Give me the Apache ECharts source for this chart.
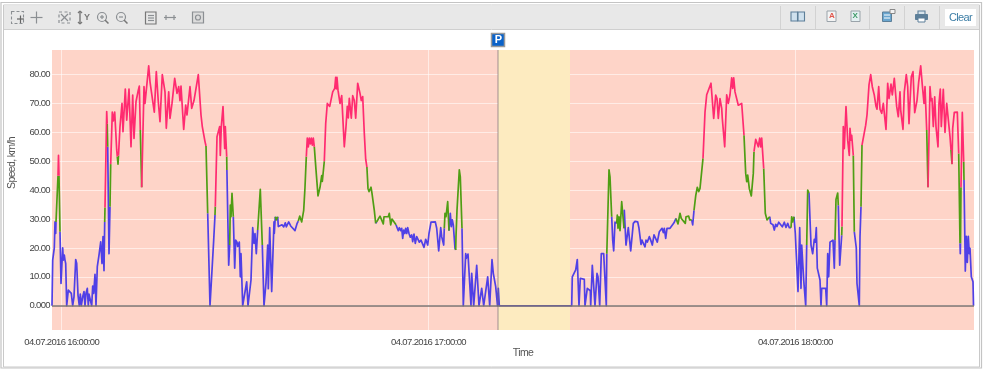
<!DOCTYPE html>
<html><head><meta charset="utf-8">
<style>html,body{margin:0;padding:0;background:#fff}#c{width:985px;height:371px}</style>
<script src="https://cdn.jsdelivr.net/npm/echarts@6/dist/echarts.min.js"></script>
</head><body><div id="c"></div>
<script>
// Readings: [sample number, speed in km/h]; one sample number is samplePeriod seconds
const samplePeriod = 9.814;
const traceStart = 57504.8;            // seconds after midnight
const parkingStart = 446, parkingEnd = 518; // sample numbers
const hourTicks = [57600, 61200, 64800];
const hourLabels = ['04.07.2016 16:00:00', '04.07.2016 17:00:00', '04.07.2016 18:00:00'];
const speedTicks = [0, 10, 20, 30, 40, 50, 60, 70, 80];

const blueLine = [[0,0],[0.7,15.8],[2.3,20],[3,29],[3.7,25],[4,29],null,
[8,25.6],[9,7.7],[10.7,20],[11.3,15.8],[12.3,17.5],[13,15.8],[13.7,14.6],[14.7,0],[16.3,5.4],[18,6],[19.3,4.3],[20.7,0],[22,3.1],[23.7,16],[24.7,14.6],[26,3.7],[27.3,0],[28.3,4],[29.3,0],[30.7,3.1],[32,4.9],[33,0],[34,4.3],[35.3,6],[36.3,0],[37,4],[38.7,4],[39.7,0],[40.7,6.8],[41.7,4.3],[43,10.9],[44,0],[45.3,13.5],[47,17.5],[48.7,22.1],[50,14.6],[51,23.9],[52,12.1],[52.7,29],null,
[55.7,55],[57,18],[58,34.3],null,
[155.7,32],[158,0],[161.7,22.7],[163,31.4],null,
[174.9,47],[176.7,14],[177.7,21],null,
[181.3,30.8],[182.7,13],[183.7,22.7],[185,22],[185.7,20.5],[187.3,22],[188.3,10],[189,18],[190.7,0],[194.7,8.3],[196,0],[197,0],[199,8.9],[200.7,27],[202,21.6],[203,25],[204.3,18],[205.7,26.2],null,
[210.3,21],[212,0],[214,8],[215.7,21],[216.3,5.9],[217.7,27],[219.7,4.9],[222,29],[222.3,25],[223.3,30.8],null,
[225.7,30.8],[226.3,27.4],[228,27.6],[230,28],[231.7,27.3],[233.3,28.7],[234.3,27.3],[236.7,29],[238.7,27.6],[240.7,27.9],[243,26],[245,28.4],[246.3,29.3],null,
[323.7,28.5],[324.7,29],null,
[344,28],[345.3,26.8],[346.3,26],[347.3,27],[348.7,26],[349.7,26.8],[350.7,23.3],[351.7,26.2],[352.7,25],[353.7,26.8],[354.7,25],[355.7,27],[357,25],[358.3,23.7],[359.7,24.5],[360.7,22.2],[362,24.8],[363.3,21.6],[364.7,23.9],[366.3,23.9],[367.3,22],[369,22.7],[370.3,22.2],[372,20.2],[373.7,23],[375.7,21],[377,25],[379,28.9],[383.3,29],[384.7,26.8],[386.7,19],[388.7,27],[389.7,23.9],[391.7,21],[392.3,26.8],null,
[397,26],[398.3,32],[399.3,27.4],[400.3,29.7],[401.3,28],[403,19.9],[403.7,19.3],null,
[410,26.8],[411.3,0],[413.7,18],[414.3,16.4],[416,17.9],[419,0],[419.7,11.2],[420.3,11],[421.7,0],[424.7,14],[427,0],[429.7,6],[431.7,0],[435.7,10],[437.7,0],[440,16],[441.3,11.2],[442.3,11.8],[443.7,6.6],[445.5,0],[446.3,6],[447.3,0],[519.7,0],[520.3,10],[522.3,10],[523.7,12.4],[525.3,16],[527,0],[528.3,9.5],[529.7,9],[532.3,9.1],[533,0],[535.3,6],[537,5.4],[538.3,5.2],[538.7,0],[540.3,14],[543,0],[545,11.2],[546,10],[547.7,0],[549.3,18],[550.7,17.5],[551.7,18],[554.3,0],[554.8,18],null,
[559.7,30.8],[560.7,22.7],[561.7,19],[563,28.9],[564.7,28.5],null,
[572,26.8],[572.3,33],[574,21],[576.3,27],[578.7,19],[581.3,28.5],[583,29.2],[585.7,29],[587,26.8],[589,21.2],[590,22.7],[591,21.8],[593,20.4],[594,22.7],[595.3,22],[597.3,23.9],[598.7,22.7],[600.3,21],[602,24.5],[603.7,23.9],[605.3,22],[607.3,25.6],[609,25],[610,26.8],[611.3,25.3],[612.3,26.8],[613.7,23.3],[615,26.8],[616.3,26.2],[618,26.8],[619.7,26.8],[622,28.7],[624,30.2],null,
[639.7,29.7],[640.7,28],[642,33],null,
[717.7,30.8],[718.7,28.5],[721,28],[722.3,26.2],[723.7,28.2],[725,27.4],[726.7,28.9],[728.7,29],[730.3,27.3],[732.3,28.9],[734,27.1],[735.7,28.5],[737.3,27],[739,27],null,
[742,30.8],[743.3,25],[746,4.9],[747.7,27],[749,6],[749.7,21],[751.7,8.9],[753.7,0],[754.7,21],null,
[757,39],[759,21],[760.7,18],[762.3,23],[763.3,22],[764.3,27],[765.3,13],[768,8.9],[769,0],[769.7,6],[773.7,6],[774.7,0],[775.7,18],[776.7,10],[778,22],[779.7,21.8],[781,22.7],[782.3,13],[783,22.7],null,
[786.3,34.8],[787.7,14],[789.7,24.4],null,
[802.3,25.6],[804.3,19.9],[805,7.7],[807.3,0],[808,24],[809,34.3],null,
[908,21.6],[908.3,18],[908.5,21.6],null,
[912,43.5],[913.3,12],[914.3,24],[915.3,15],[916.3,24],[917.3,18],[918,19.9],[919.3,10],[921,8.3],[921.5,0]];

const greenLine = [[4,29],[6,45],null,[7,45],[8,25.6],null,[52.7,29],[53,34],null,[55.2,63],[55.7,55],null,[58,34.3],[58.7,49],null,
[65.3,51.6],[66,49],[66.5,52],null,[88.3,60.8],[89.7,41],null,[154,55.3],[155.7,32],null,[163,31.4],[163.3,34.3],null,[174.7,51.6],[174.9,47],null,
[177.7,21],[178.3,34.8],[179,30.8],[180,38.9],[181.3,30.8],null,[205.7,26.2],[208.3,40.3],[210.3,21],null,[223.3,30.8],[224.3,29.7],[225.7,30.8],null,
[246.3,29.3],[247.7,31],[249.7,29],[251.7,33],[253,41],[254.3,51.6],null,[262.3,55],[264,47],[266,38],[268,41],[269.7,45],[270.3,43],[272.3,50],null,
[314.9,48],[316,40.6],[317,39.5],[318,40],[319,41],[320,38.9],[321,39.5],[322.3,33],[323.7,28.5],null,
[324.7,29],[326.3,30],[328,31],[329.7,30.8],[331.3,28.3],[332,30.8],[334,30.6],[336.3,30.8],[337.3,32],[338.7,28],[340,30],[342,30.2],[344,28],null,
[392.3,26.8],[393,32],[394,30.8],[395.7,36],[397,26],null,[403.7,19.3],[404,24],[405,33],[407.3,47],[408.3,44.6],[410,26.8],null,
[554.8,18],[557,47],[558,44.6],[559.7,30.8],null,[564.7,28.5],[565.3,31.4],[566,26.8],[567,30.8],[568,26],[569.7,36],[570.7,35.4],[572,26.8],null,
[624,30.2],[626,28.3],[628,32],[629.3,30.2],[631.3,30.6],[633.3,28.5],[634,30.8],[635.7,30.6],[636.7,31],[637.7,29.7],[639.7,29.7],null,
[642,33],[643.7,38],[645.3,41],[646.7,39.5],[648,40.6],[649.7,40.6],[651,51],null,
[692,59],[693.7,45.8],[694.7,42.9],[695.7,45.2],[697.3,40.6],[699.3,38],[701.3,45.8],[702,53.3],null,
[711.7,47.5],[713.3,32],[715,29.7],[716.3,30.2],[717.7,30.8],null,[739,27],[739.7,30.8],[740.7,29],[742,30.8],null,[754.7,21],[755.7,40],[757,39],null,
[783,22.7],[784,36.8],[785.7,39],[786.3,34.8],null,[789.7,24.4],[790,27.4],null,[801.3,52],[802.3,25.6],null,[809,34.3],[810,55.6],null,
[874.7,60.8],[876,41],null,[899,53.9],[900,49],null,[906.7,52.7],[908,21.6],null,[908.5,21.6],[909,41],null,[911.7,49.8],[912,43.5]];

const pinkLine = [[6,45],[6.5,52],[7,45],null,[53,34],[54.7,67.2],[55.2,63],null,
[58.7,49],[60.3,67],[61.3,64],[62.7,67],[64.7,54],[65.3,51.6],null,
[66.5,52],[68,62],[70,70],[71,60.2],[73.3,75],[74.7,64.2],[77,75],[79,55],[80.7,72.9],[82,57.9],[84,70.6],[86.3,74.6],[87.3,76],[88.3,60.8],null,
[89.7,41],[92,75.8],[93,70],[96.7,83],[98,77.5],[99.7,77],[102.3,67],[104.3,81],[106.3,70.6],[108,63.7],[110.3,80],[113,74],[114.3,61.4],[116.7,74],[118,64.8],[120,70],[122.7,78.7],[125,73.5],[126.7,75.8],[128,71],[129,76],[131.7,61],[133.7,69.4],[135,66],[138,75.8],[139.7,68.3],[142,71],[146.3,80],[149,66],[150.3,62],[151.7,62.5],[153,56.8],[154,55.3],null,
[163.3,34.3],[165,58.5],[166.3,58],[167.7,62],[168.3,52],[169.3,62],[171,68.9],[172.7,54.4],[173.3,62],[174.7,51.6],null,
[254.3,51.6],[255.3,58],[256.3,55],[257.3,58],[258.3,56],[259.3,58],[260.3,55.6],[261.3,58],[262.3,55],null,
[272.3,50],[273.7,63],[275.3,70],[277.7,69],[280.7,74],[282.7,75.2],[283.7,79],[284.3,75],[285,79],[286,74.6],[288,70],[289.7,72.7],[292.3,55],[294,62],[295.3,69],[296.3,65],[297.3,71.8],[299.3,64.9],[300.7,72.7],[302.3,71],[303.7,64.9],[305.7,77],[308,73.5],[309.3,71],[310.7,72.4],[312.3,59.7],[313.7,50.7],[314.5,50.7],[314.9,48],null,
[651,51],[653,67],[654.7,73],[656.3,72.5],[659,77],[661.7,64.8],[663.7,72.9],[665,71.7],[666.3,64.8],[668,71.7],[669.7,68.3],[670.3,64.8],[672.7,55],[674.7,73],[676.3,70],[678,73],[679.7,78.9],[680.7,75.2],[681.7,78.9],[683,74],[684.7,74.6],[686.3,69.4],[688,69.4],[689.7,70],[692,59],null,
[702,53.3],[703.7,57.6],[705.3,58],[706.3,55],[707.7,58],[708.7,55],[709.7,58],[711.7,47.5],null,
[790,27.4],[791.3,62],[792.3,54.4],[794,68.9],[795.7,57.3],[797.3,52],[798,61.4],[799,57.3],[799.7,59],[801.3,52],null,
[810,55.6],[811.3,56],[813.7,62.5],[815,66],[816,66],[817,76.4],[818.7,80],[820.3,75.8],[822.3,72.9],[824,69],[825,68],[826.7,75.8],[828,68],[829.7,66.6],[831.3,70],[834,61],[835.7,77],[837,71.7],[839,76.7],[840.3,73],[842.3,78.7],[844.7,68.9],[846.3,65.4],[848,74],[848.7,67.7],[851,61],[852.3,74],[854.3,80],[855.7,75.8],[857,63],[858,70.6],[859.3,79.2],[861,81],[862.7,66.8],[865,71],[866.7,77.5],[868.7,83],[870.3,76.4],[872,70],[873,75.8],[874.7,60.8],null,
[876,41],[878,75.8],[879,71],[880,71.7],[881.3,62],[882.7,72.3],[884,62],[886,55],[887,70],[888.3,75],[889.3,62],[891.3,74.9],[893,60],[894.7,70],[898,58.5],[899,53.9],null,
[900,49],[900.7,61.4],[902.3,66.9],[904.3,66.9],[905.3,67],[906.7,52.7],null,[909,41],[910.3,66.9],[911.7,49.8]];

const toTime = n => traceStart + n * samplePeriod;
const build = run => run.map(p => p ? [toTime(p[0]), p[1]] : [null, null]);
const xEnd = toTime(922);
const font = "'Liberation Sans',Arial,sans-serif";
const grey = '#555';

// the reference's labels are set tightly, with almost no room for the punctuation
const baseFillText = CanvasRenderingContext2D.prototype.fillText;
CanvasRenderingContext2D.prototype.fillText = function (...args) {
  this.letterSpacing = '-0.65px';
  return baseFillText.apply(this, args);
};

// toolbar chrome
const ic = '#8b8f93', ib = '#5d7f99';
const L = (x1,y1,x2,y2,c,w,dash) => ({type:'line',silent:true,shape:{x1,y1,x2,y2},style:{stroke:c||ic,lineWidth:w||1.2,lineDash:dash}});
const R = (x,y,width,height,fill,stroke,w,dash) => ({type:'rect',silent:true,shape:{x,y,width,height},style:{fill:fill||'none',stroke:stroke||'none',lineWidth:w||1,lineDash:dash}});
const C = (cx,cy,r) => ({type:'circle',silent:true,shape:{cx,cy,r},style:{fill:'none',stroke:ic,lineWidth:1.2}});
const cross = (cx,cy,r) => [L(cx-r,cy,cx+r,cy),L(cx,cy-r,cx,cy+r)];
const chrome = [
  R(0,0,985,371,'#fff'),
  R(1,2.5,980.5,365.5,'none','#c4c4c4',1.2), R(3.5,5,976,362,'none','#c9c9c9',1),
  R(4,5.5,975,23.5,'#e8e8e8'), L(4,29.5,979,29.5,'#cfcfcf',1),
  R(11.5,11.5,12,12,'none',ic,1.1,[3,2]), L(17,19,24,19,'#666',1.2), L(20.5,15.5,20.5,23,'#666',1.2),
  ...cross(36.5,17.5,6),
  R(59,12,11,11,'none',ic,1.2,[3,2.5]), L(61,14,68,21), L(68,14,61,21),
  L(80,11,80,24,'#777',1.4), L(78,13,80,11,'#777'), L(82,13,80,11,'#777'), L(78,22,80,24,'#777'), L(82,22,80,24,'#777'),
  {type:'text',silent:true,style:{x:84,y:13,text:'Y',fill:'#777',font:'bold 9px "Liberation Sans"'}},
  C(102,17,4.5), L(105,20,108.5,23.5,'#777',1.5), L(100,17,104,17), L(102,15,102,19),
  C(121,17,4.5), L(124,20,127.5,23.5,'#777',1.5), L(119,17,123,17),
  R(145.5,12,10.5,12,'none','#777',1.2), L(148,15.5,154,15.5), L(148,18,154,18), L(148,20.5,154,20.5),
  L(164,17.5,176,17.5), L(166,15,166,20), L(174,15,174,20),
  R(192.5,12,11,11,'#dcdcdc',ic,1.2), C(198,17.5,2.5),
  ...[780.5,815.5,869.5,904.5,939.5].map(x => L(x,6,x,29,'#d2d2d2',1)),
  R(791,12,6.5,9,'#cfe1ee',ib,1.1), R(798,12,6.5,9,'#cfe1ee',ib,1.1),
  R(827,11,9,10.5,'#f4f4f4','#9aa3aa',1), {type:'text',silent:true,style:{x:829,y:12,text:'A',fill:'#e0584e',font:'bold 8px "Liberation Sans"'}},
  R(851,11,9,10.5,'#e4f0f2','#9aa3aa',1), {type:'text',silent:true,style:{x:852.5,y:12,text:'X',fill:'#3f9b6a',font:'bold 8px "Liberation Sans"'}},
  R(882.5,12,9,9.5,'#6aa6cf',ib,1), L(884,15,890,15,'#fff',1), L(884,18,890,18,'#fff',1), R(890,9.5,5,4,'#f2f2f2','#888',1),
  R(918,11,7,4,'#d8e4ec',ib,1.1), R(915.5,14.5,12,5,ib,ib,1), R(918,18,7,4,'#fff',ib,1),
  R(945,9,31,17,'#fff'),
  {type:'text',silent:true,style:{x:960.5,y:17.5,text:'Clear',fill:'#3d7ea6',align:'center',verticalAlign:'middle',font:'11px "Liberation Sans"'}}
];

const line = (name, run, color) => ({
  name, type:'line', data:build(run), z:3, showSymbol:false, connectNulls:false, animation:false,
  lineStyle:{color, width:1.7, join:'round'}, itemStyle:{color}
});

const chart = echarts.init(document.getElementById('c'), null, {renderer:'canvas'});
chart.setOption({
  animation:false, backgroundColor:'#fff',
  graphic:{elements:chrome.map(e => Object.assign({z:-1,zlevel:0}, e))},
  grid:{left:52, top:50, width:922, height:280, show:true, backgroundColor:'#fed4c8', borderWidth:0, outerBoundsMode:'none', containLabel:false},
  xAxis:{type:'value', min:traceStart, max:xEnd, scale:true,
    name:'Time', nameLocation:'middle', nameGap:18, nameMoveOverlap:false,
    nameTextStyle:{color:grey, fontSize:10.5, fontFamily:font, padding:[0,0,0,20]},
    axisLine:{show:false}, axisTick:{show:false, customValues:hourTicks},
    axisLabel:{customValues:hourTicks, margin:7, color:'#444', fontSize:9.5, fontFamily:font,
      formatter:v => hourLabels[hourTicks.indexOf(v)] || ''},
    splitLine:{show:true, lineStyle:{color:'rgba(255,255,255,.55)', width:1}}, z:1},
  yAxis:{type:'value', min:-8.4, max:88.5,
    name:'Speed, km/h', nameLocation:'middle', nameGap:34, nameMoveOverlap:false,
    nameTextStyle:{color:grey, fontSize:10.5, fontFamily:font, padding:[0,0,0,54]},
    axisLine:{show:false}, axisTick:{show:false, customValues:speedTicks},
    axisLabel:{customValues:speedTicks, margin:2, color:'#444', fontSize:9.5, fontFamily:font,
      formatter:v => v === 0 ? '0.000' : v.toFixed(2)},
    splitLine:{show:true, lineStyle:{color:'rgba(255,255,255,.55)', width:1}}, z:1},
  series:[
    {name:'Parking', type:'line', data:[], z:0.5, silent:true,
     markArea:{silent:true, itemStyle:{color:'#fdebc0'}, data:[[{xAxis:toTime(parkingStart)},{xAxis:toTime(parkingEnd)}]]}},
    {name:'Markers', type:'line', data:[], z:2, silent:true,
     markLine:{silent:true, symbol:'none', animation:false, label:{show:false}, data:[
       {yAxis:0, lineStyle:{color:'#7b7370', width:1.5, type:'solid'}},
       {xAxis:toTime(parkingStart), lineStyle:{color:'rgba(120,110,120,.35)', width:2, type:'solid'}}]},
     markPoint:{silent:true, symbol:'rect', symbolSize:13, symbolOffset:[0,-10], animation:false,
       itemStyle:{color:'#0a62c9', borderColor:'#9a9a9a', borderWidth:1.5},
       label:{show:true, formatter:'P', color:'#fff', fontWeight:'bold', fontSize:11, fontFamily:font},
       data:[{coord:[toTime(parkingStart), 88.5]}]}},
    line('Low', blueLine, '#5040e6'),
    line('Medium', greenLine, '#4f9e14'),
    line('High', pinkLine, '#ff2b70')
  ]
});
</script></body></html>
